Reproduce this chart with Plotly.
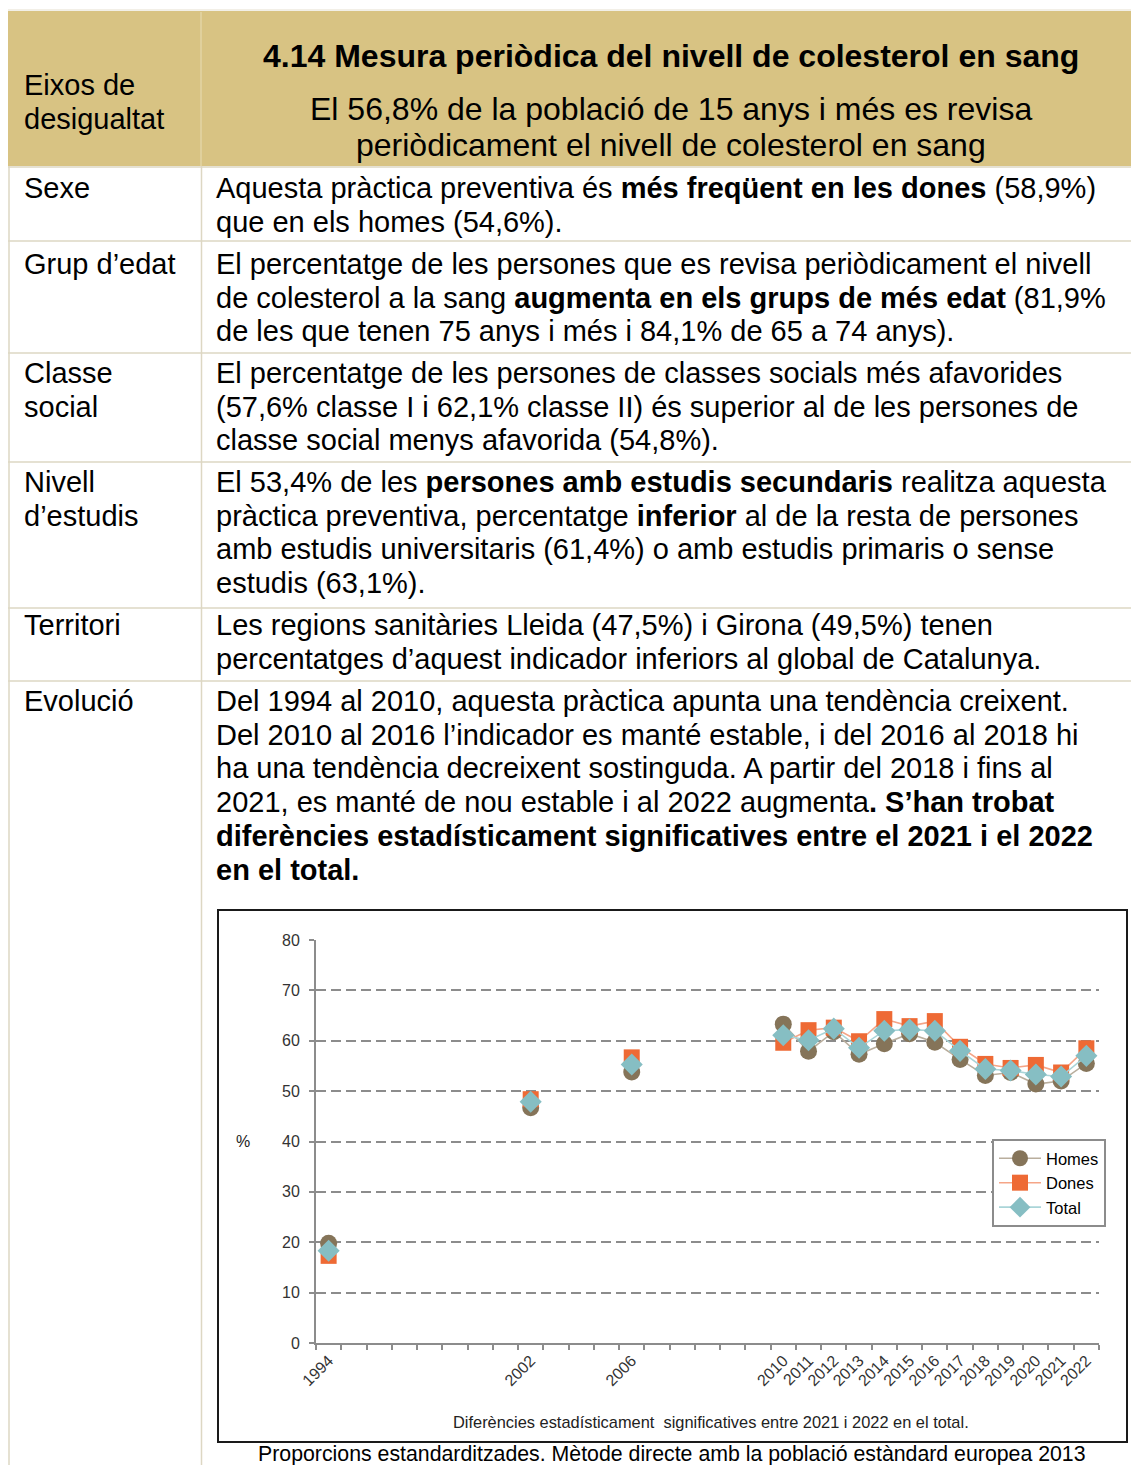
import plotly.graph_objects as go

# ---------------- data ----------------
periods = [str(y) for y in range(1994, 2007)] + ["gap1", "gap2", "gap3", "gap4", "gap5"] + [str(y) for y in range(2010, 2023)]
labelled_years = ["1994", "2002", "2006", "2010", "2011", "2012", "2013", "2014", "2015",
                  "2016", "2017", "2018", "2019", "2020", "2021", "2022"]
homes_vals = [19.8, 46.7, 53.8, 63.3, 57.9, 61.8, 57.3, 59.4, 61.4, 59.7, 56.3, 53.1, 53.7, 51.4, 52.0, 55.5]
dones_vals = [17.3, 48.4, 56.7, 59.6, 62.1, 62.6, 59.9, 64.3, 62.9, 63.9, 58.8, 55.4, 54.6, 55.2, 53.7, 58.5]
total_vals = [18.3, 47.9, 55.3, 61.1, 60.1, 62.4, 58.6, 62.0, 62.2, 62.0, 58.0, 54.4, 54.1, 53.3, 52.9, 57.0]
tick_labels = [p if p in labelled_years else "" for p in periods]
series_names = ["Homes", "Dones", "Total"]

row_labels = [
    ["Sexe"],
    ["Grup d’edat"],
    ["Classe", "social"],
    ["Nivell", "d’estudis"],
    ["Territori"],
    ["Evolució"],
]
row_texts = [
    ["Aquesta pràctica preventiva és <b>més freqüent en les dones</b> (58,9%)",
     "que en els homes (54,6%)."],
    ["El percentatge de les persones que es revisa periòdicament el nivell",
     "de colesterol a la sang <b>augmenta en els grups de més edat</b> (81,9%",
     "de les que tenen 75 anys i més i 84,1% de 65 a 74 anys)."],
    ["El percentatge de les persones de classes socials més afavorides",
     "(57,6% classe I i 62,1% classe II) és superior al de les persones de",
     "classe social menys afavorida (54,8%)."],
    ["El 53,4% de les <b>persones amb estudis secundaris</b> realitza aquesta",
     "pràctica preventiva, percentatge <b>inferior</b> al de la resta de persones",
     "amb estudis universitaris (61,4%) o amb estudis primaris o sense",
     "estudis (63,1%)."],
    ["Les regions sanitàries Lleida (47,5%) i Girona (49,5%) tenen",
     "percentatges d’aquest indicador inferiors al global de Catalunya."],
    ["Del 1994 al 2010, aquesta pràctica apunta una tendència creixent.",
     "Del 2010 al 2016 l’indicador es manté estable, i del 2016 al 2018 hi",
     "ha una tendència decreixent sostinguda. A partir del 2018 i fins al",
     "2021, es manté de nou estable i al 2022 augmenta<b>. S’han trobat</b>",
     "<b>diferències estadísticament significatives entre el 2021 i el 2022</b>",
     "<b>en el total.</b>"],
]
header_left = ["Eixos de", "desigualtat"]
title_text = "<b>4.14 Mesura periòdica del nivell de colesterol en sang</b>"
subtitle_lines = ["El 56,8% de la població de 15 anys i més es revisa",
                  "periòdicament el nivell de colesterol en sang"]
chart_note = "Diferències estadísticament  significatives entre 2021 i 2022 en el total."
caption = "Proporcions estandarditzades. Mètode directe amb la població estàndard europea 2013"

# ---------------- layout constants ----------------
W, H = 1131, 1465
FONT = "Liberation Sans, Arial, sans-serif"
BODY = 29


def px(x):
    return x / W


def py(y):
    return 1 - y / H


row_tops = [168, 242, 354, 463, 609, 682]
row_first_line = [188, 264, 373, 482, 625, 701]
line_gap = 33.7

colors = {"Homes": "#857459", "Dones": "#EE6A35", "Total": "#86BEC3"}
line_colors = {"Homes": "#B9AE9D", "Dones": "#F5A587", "Total": "#AAD5D8"}
symbols = {"Homes": "circle", "Dones": "square", "Total": "diamond"}
sizes = {"Homes": 17, "Dones": 16, "Total": 17}

fig = go.Figure()


def series(vals):
    d = dict(zip(labelled_years, vals))
    return [d.get(p) for p in periods]


for name, vals in zip(series_names, [homes_vals, dones_vals, total_vals]):
    fig.add_trace(go.Scatter(
        x=periods, y=series(vals), name=name, mode="lines+markers",
        connectgaps=False,
        line=dict(color=line_colors[name], width=1.6),
        marker=dict(symbol=symbols[name], size=sizes[name], color=colors[name],
                    line=dict(width=0)),
    ))

shapes = []
# header band
shapes.append(dict(type="rect", xref="paper", yref="paper", x0=px(8), x1=px(1131),
                   y0=py(166), y1=py(11), fillcolor="#D8C383", line=dict(width=0), layer="below"))
shapes.append(dict(type="line", xref="paper", yref="paper", x0=px(8), x1=px(1131),
                   y0=py(10), y1=py(10), line=dict(color="#E4DFCF", width=1)))
shapes.append(dict(type="line", xref="paper", yref="paper", x0=px(201), x1=px(201),
                   y0=py(166), y1=py(12), line=dict(color="#E6D9AE", width=1.2)))
# table body lines
border = "#DDD7C3"
for y in [167] + [t - 1 for t in row_tops[1:]]:
    shapes.append(dict(type="line", xref="paper", yref="paper", x0=px(8), x1=px(1131),
                       y0=py(y), y1=py(y), line=dict(color=border, width=1.5)))
for x in [9, 201.5]:
    shapes.append(dict(type="line", xref="paper", yref="paper", x0=px(x), x1=px(x),
                       y0=py(1465), y1=py(166), line=dict(color=border, width=1.5)))
# chart frame
shapes.append(dict(type="rect", xref="paper", yref="paper", x0=px(218), x1=px(1127),
                   y0=py(1442), y1=py(910), line=dict(color="#1a1a1a", width=2),
                   fillcolor="rgba(0,0,0,0)"))

annotations = []


def add_text(text, x, y, size, xanchor="left", color="black"):
    annotations.append(dict(text=text, x=px(x), y=py(y), xref="paper", yref="paper",
                            xanchor=xanchor, yanchor="middle", showarrow=False,
                            font=dict(family=FONT, size=size, color=color)))


# header
add_text(header_left[0], 22, 85, BODY)
add_text(header_left[1], 22, 119, BODY)
add_text(title_text, 671, 56, 32, xanchor="center")
add_text(subtitle_lines[0], 671, 109, 32, xanchor="center")
add_text(subtitle_lines[1], 671, 145, 32, xanchor="center")

# rows
for labels, texts, y0 in zip(row_labels, row_texts, row_first_line):
    for i, t in enumerate(labels):
        add_text(t, 22, y0 + i * line_gap, BODY)
    for i, t in enumerate(texts):
        add_text(t, 214, y0 + i * line_gap, BODY)

# chart texts
add_text("%", 243, 1141, 16, xanchor="center", color="#222222")
add_text(chart_note, 711, 1422, 16.4, xanchor="center", color="#222222")
add_text(caption, 672, 1454, 21.3, xanchor="center")

fig.update_layout(
    width=W, height=H,
    margin=dict(l=0, r=0, t=0, b=0, autoexpand=False),
    paper_bgcolor="white", plot_bgcolor="white",
    font=dict(family=FONT, color="#333333"),
    showlegend=True,
    legend=dict(x=px(992), y=py(1139), xanchor="left", yanchor="top",
                bgcolor="white", bordercolor="#8c8c8c", borderwidth=2,
                font=dict(family=FONT, size=16.5, color="black"),
                itemwidth=42, tracegroupgap=0),
    xaxis=dict(domain=[px(316), px(1099)], type="category", automargin=False,
               categoryorder="array", categoryarray=periods,
               tickmode="array", tickvals=periods, ticktext=tick_labels,
               tickson="boundaries", ticks="outside", ticklen=5, tickwidth=2, tickcolor="#8c8c8c",
               tickangle=-45, tickfont=dict(family=FONT, size=16, color="#333333"),
               showgrid=False, showline=True, linecolor="#8c8c8c", linewidth=2,
               range=[-0.5, len(periods) - 0.5], zeroline=False),
    yaxis=dict(domain=[py(1343), py(940)], range=[0, 80], dtick=10, automargin=False,
               ticks="outside", ticklen=5, tickwidth=2, tickcolor="#8c8c8c",
               ticklabelstandoff=6,
               tickfont=dict(family=FONT, size=16, color="#333333"),
               showgrid=True, gridcolor="#8c8c8c", griddash="10px,5px", gridwidth=2,
               showline=True, linecolor="#8c8c8c", linewidth=2, zeroline=False),
    shapes=shapes,
    annotations=annotations,
)

fig.write_html("out.html",
               config={"displayModeBar": False},
               post_script="document.body.style.margin='0px';document.body.style.overflow='hidden';")
